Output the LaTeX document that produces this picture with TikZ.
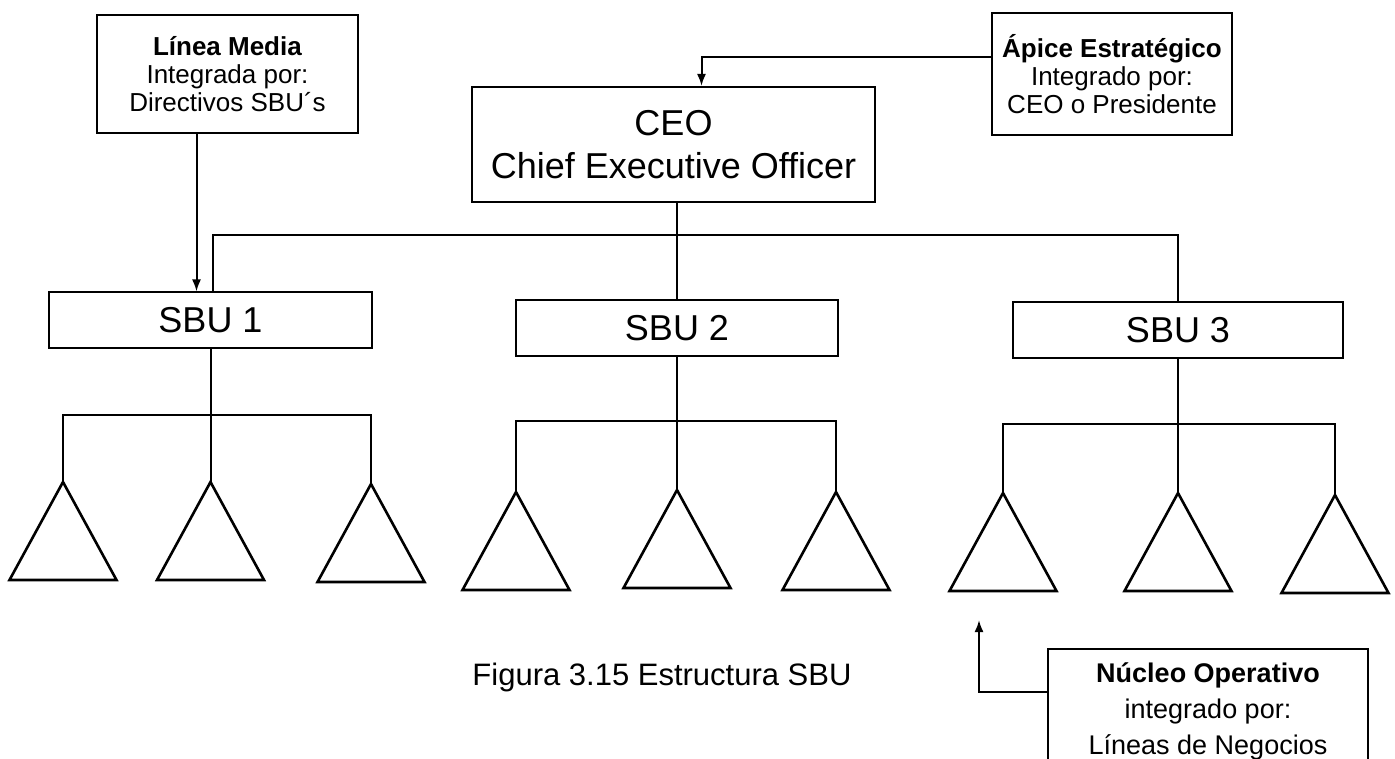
\documentclass[tikz,border=0pt]{standalone}
\usepackage{fontspec}
\setmainfont{Liberation Sans}
\usetikzlibrary{arrows.meta,shapes.geometric}

\begin{document}
\begin{tikzpicture}[x=1pt,y=-1pt,>={Latex[length=12pt,width=9pt]},line width=2pt,
                    unit box/.style={draw,inner sep=0pt,minimum height=55pt,font=\fontsize{36}{40}\selectfont},
                    note box/.style={draw,align=center,inner sep=0pt,font=\fontsize{26}{28}\selectfont},
                    line node/.style={draw,isosceles triangle,isosceles triangle stretches,shape border rotate=90,
                                      inner sep=0pt,outer sep=0pt,minimum width=107pt,minimum height=98pt,
                                      line width=2.6pt,anchor=apex}]
  \useasboundingbox (0,0) rectangle (1395,759);

  % top level and the two notes beside it
  \node[note box,minimum width=261pt,minimum height=118pt] (media) at (227.5,74)
    {\textbf{Línea Media}\\Integrada por:\\Directivos SBU´s};
  \node[note box,minimum width=403pt,minimum height=115pt,font=\fontsize{36}{43}\selectfont] (ceo) at (673.5,144.5)
    {CEO\\Chief Executive Officer};
  \node[note box,minimum width=240pt,minimum height=122pt] (apice) at (1112,74)
    {\textbf{Ápice Estratégico}\\Integrado por:\\CEO o Presidente};

  % business units
  \node[unit box,minimum width=323pt] (s1) at (210.5,320) {SBU 1};
  \node[unit box,minimum width=322pt] (s2) at (677,328) {SBU 2};
  \node[unit box,minimum width=330pt] (s3) at (1178,330) {SBU 3};

  % lines of business under each unit
  \node[line node] (t11) at (63,482) {};
  \node[line node] (t12) at (210.5,482) {};
  \node[line node] (t13) at (371,484) {};
  \node[line node] (t21) at (516,492) {};
  \node[line node] (t22) at (677,490) {};
  \node[line node] (t23) at (836,492) {};
  \node[line node] (t31) at (1003,493) {};
  \node[line node] (t32) at (1178,493) {};
  \node[line node] (t33) at (1335,495) {};

  \node[note box,minimum width=320pt,minimum height=125pt,anchor=north west,font=\fontsize{27}{36}\selectfont] (nucleo) at (1047,648)
    {\textbf{Núcleo Operativo}\\integrado por:\\Líneas de Negocios};
  \coordinate (opnote) at (979,620);

  \node[font=\fontsize{31}{36}\selectfont,anchor=base] (caption) at (662,685) {Figura 3.15 Estructura SBU};

  % connectors
  \draw[->] ([xshift=-31pt]media.south) -- ([xshift=-31pt]media.south |- s1.north);
  \draw[->] ([yshift=17pt]apice.west) -| ([xshift=28pt]ceo.north);
  \draw (s2.north) -- (s2.north |- ceo.south);
  \draw ([xshift=2pt]s1.north) -- ++(0,-56) -| (s3.north);

  \draw (s1.south) -- (t12.apex);
  \draw (t11.apex) -- ++(0,-67) -| (t13.apex);
  \draw (s2.south) -- (t22.apex);
  \draw (t21.apex) -- ++(0,-71) -| (t23.apex);
  \draw (s3.south) -- (t32.apex);
  \draw (t31.apex) -- ++(0,-69) -| (t33.apex);

  \draw[->] ([yshift=-44pt]nucleo.north west) -| (opnote);
\end{tikzpicture}
\end{document}
